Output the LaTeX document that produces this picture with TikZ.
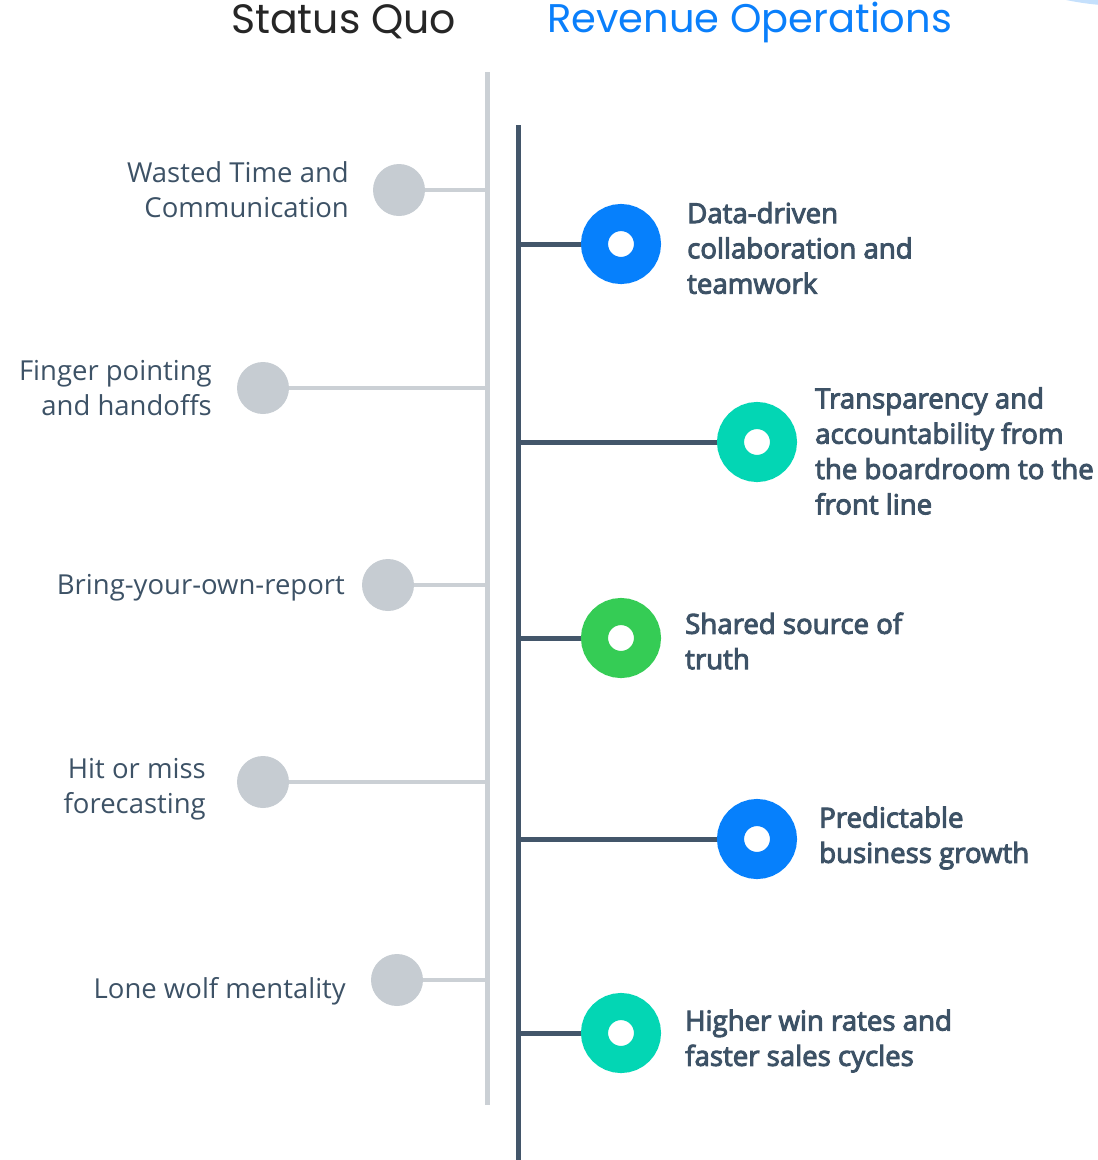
\documentclass[tikz,border=0pt]{standalone}
\usepackage{fontspec}
\setmainfont{Open Sans}
\newfontfamily\headfont{Poppins}
\newfontfamily\strongfont{Open Sans}[FakeBold=3.5]
\definecolor{slate}{HTML}{3D5266}
\definecolor{darkline}{HTML}{43566A}
\definecolor{greyline}{HTML}{CBD0D5}
\definecolor{greydot}{HTML}{C6CCD2}
\definecolor{ringblue}{HTML}{0680FC}
\definecolor{ringteal}{HTML}{03D6B4}
\definecolor{ringgreen}{HTML}{35CC55}
\definecolor{headblue}{HTML}{0A7FFB}
\definecolor{headdark}{HTML}{262626}
\definecolor{blob}{HTML}{C5E0FC}
\begin{document}
\begin{tikzpicture}[x=1pt,y=-1pt,
  oldlabel/.style={anchor=east,align=right,text=slate,font=\fontsize{27.5}{35}\selectfont,inner sep=0pt},
  newlabel/.style={anchor=west,align=left,text=slate,font=\strongfont\fontsize{27.6}{35.3}\selectfont,inner sep=0pt},
  greydotstyle/.style={circle,fill=greydot,minimum size=52pt,inner sep=0pt},
  ring/.style={circle,draw=#1,line width=27pt,fill=white,minimum size=53pt,inner sep=0pt},
  oldlink/.style={greyline,line width=4pt},
  newlink/.style={darkline,line width=5pt}]
\useasboundingbox (0,0) rectangle (1098,1160);
\begin{scope}
  \clip (0,0) rectangle (1098,1160);
  \fill[blob] (1125,-284) circle (290);
\end{scope}

% column headings
\node[anchor=west,inner sep=0pt,text=headdark,font=\headfont\fontsize{41}{44}\selectfont] (hq) at (231,22) {Status Quo};
\node[anchor=west,inner sep=0pt,text=headblue,font=\headfont\fontsize{40}{44}\selectfont] (hr) at (547,22) {Revenue Operations};

% spines
\coordinate (gtop) at (487,72);
\coordinate (gbot) at (487,1105);
\coordinate (dtop) at (518,125);
\coordinate (dbot) at (518,1160);
\draw[greyline,line width=5pt] (gtop) -- (gbot);
\draw[darkline,line width=5pt] (dtop) -- (dbot);

% status quo items
\foreach \n/\x/\y in {1/399/190,2/263/388,3/388/585,4/263/782,5/397/980}{
  \coordinate (g\n) at (487,\y);
  \node[greydotstyle] (o\n) at (\x,\y) {};
  \draw[oldlink] (o\n) -- (g\n);
}
\node[oldlabel] (t1) at (349,190) {Wasted Time and\\Communication};
\node[oldlabel] (t2) at (212,388) {Finger pointing\\and handoffs};
\node[oldlabel] (t3) at (345,588) {Bring-your-own-report};
\node[oldlabel] (t4) at (206,789) {Hit or miss\\forecasting};
\node[oldlabel] (t5) at (346,991) {Lone wolf mentality};

% revenue operations items
\foreach \n/\x/\y/\c in {1/621/244/ringblue,2/757/442/ringteal,3/621/638/ringgreen,4/757/839/ringblue,5/621/1033/ringteal}{
  \coordinate (d\n) at (518,\y);
  \node[ring=\c] (r\n) at (\x,\y) {};
  \draw[newlink] (d\n) -- (r\n);
}
\node[newlabel] (s1) at (687,248) {Data-driven\\collaboration and\\teamwork};
\node[newlabel] (s2) at (815,451) {Transparency and\\accountability from\\the boardroom to the\\front line};
\node[newlabel] (s3) at (685,641) {Shared source of\\truth};
\node[newlabel] (s4) at (819,838) {Predictable\\business growth};
\node[newlabel] (s5) at (685,1041) {Higher win rates and\\faster sales cycles};
\end{tikzpicture}
\end{document}
